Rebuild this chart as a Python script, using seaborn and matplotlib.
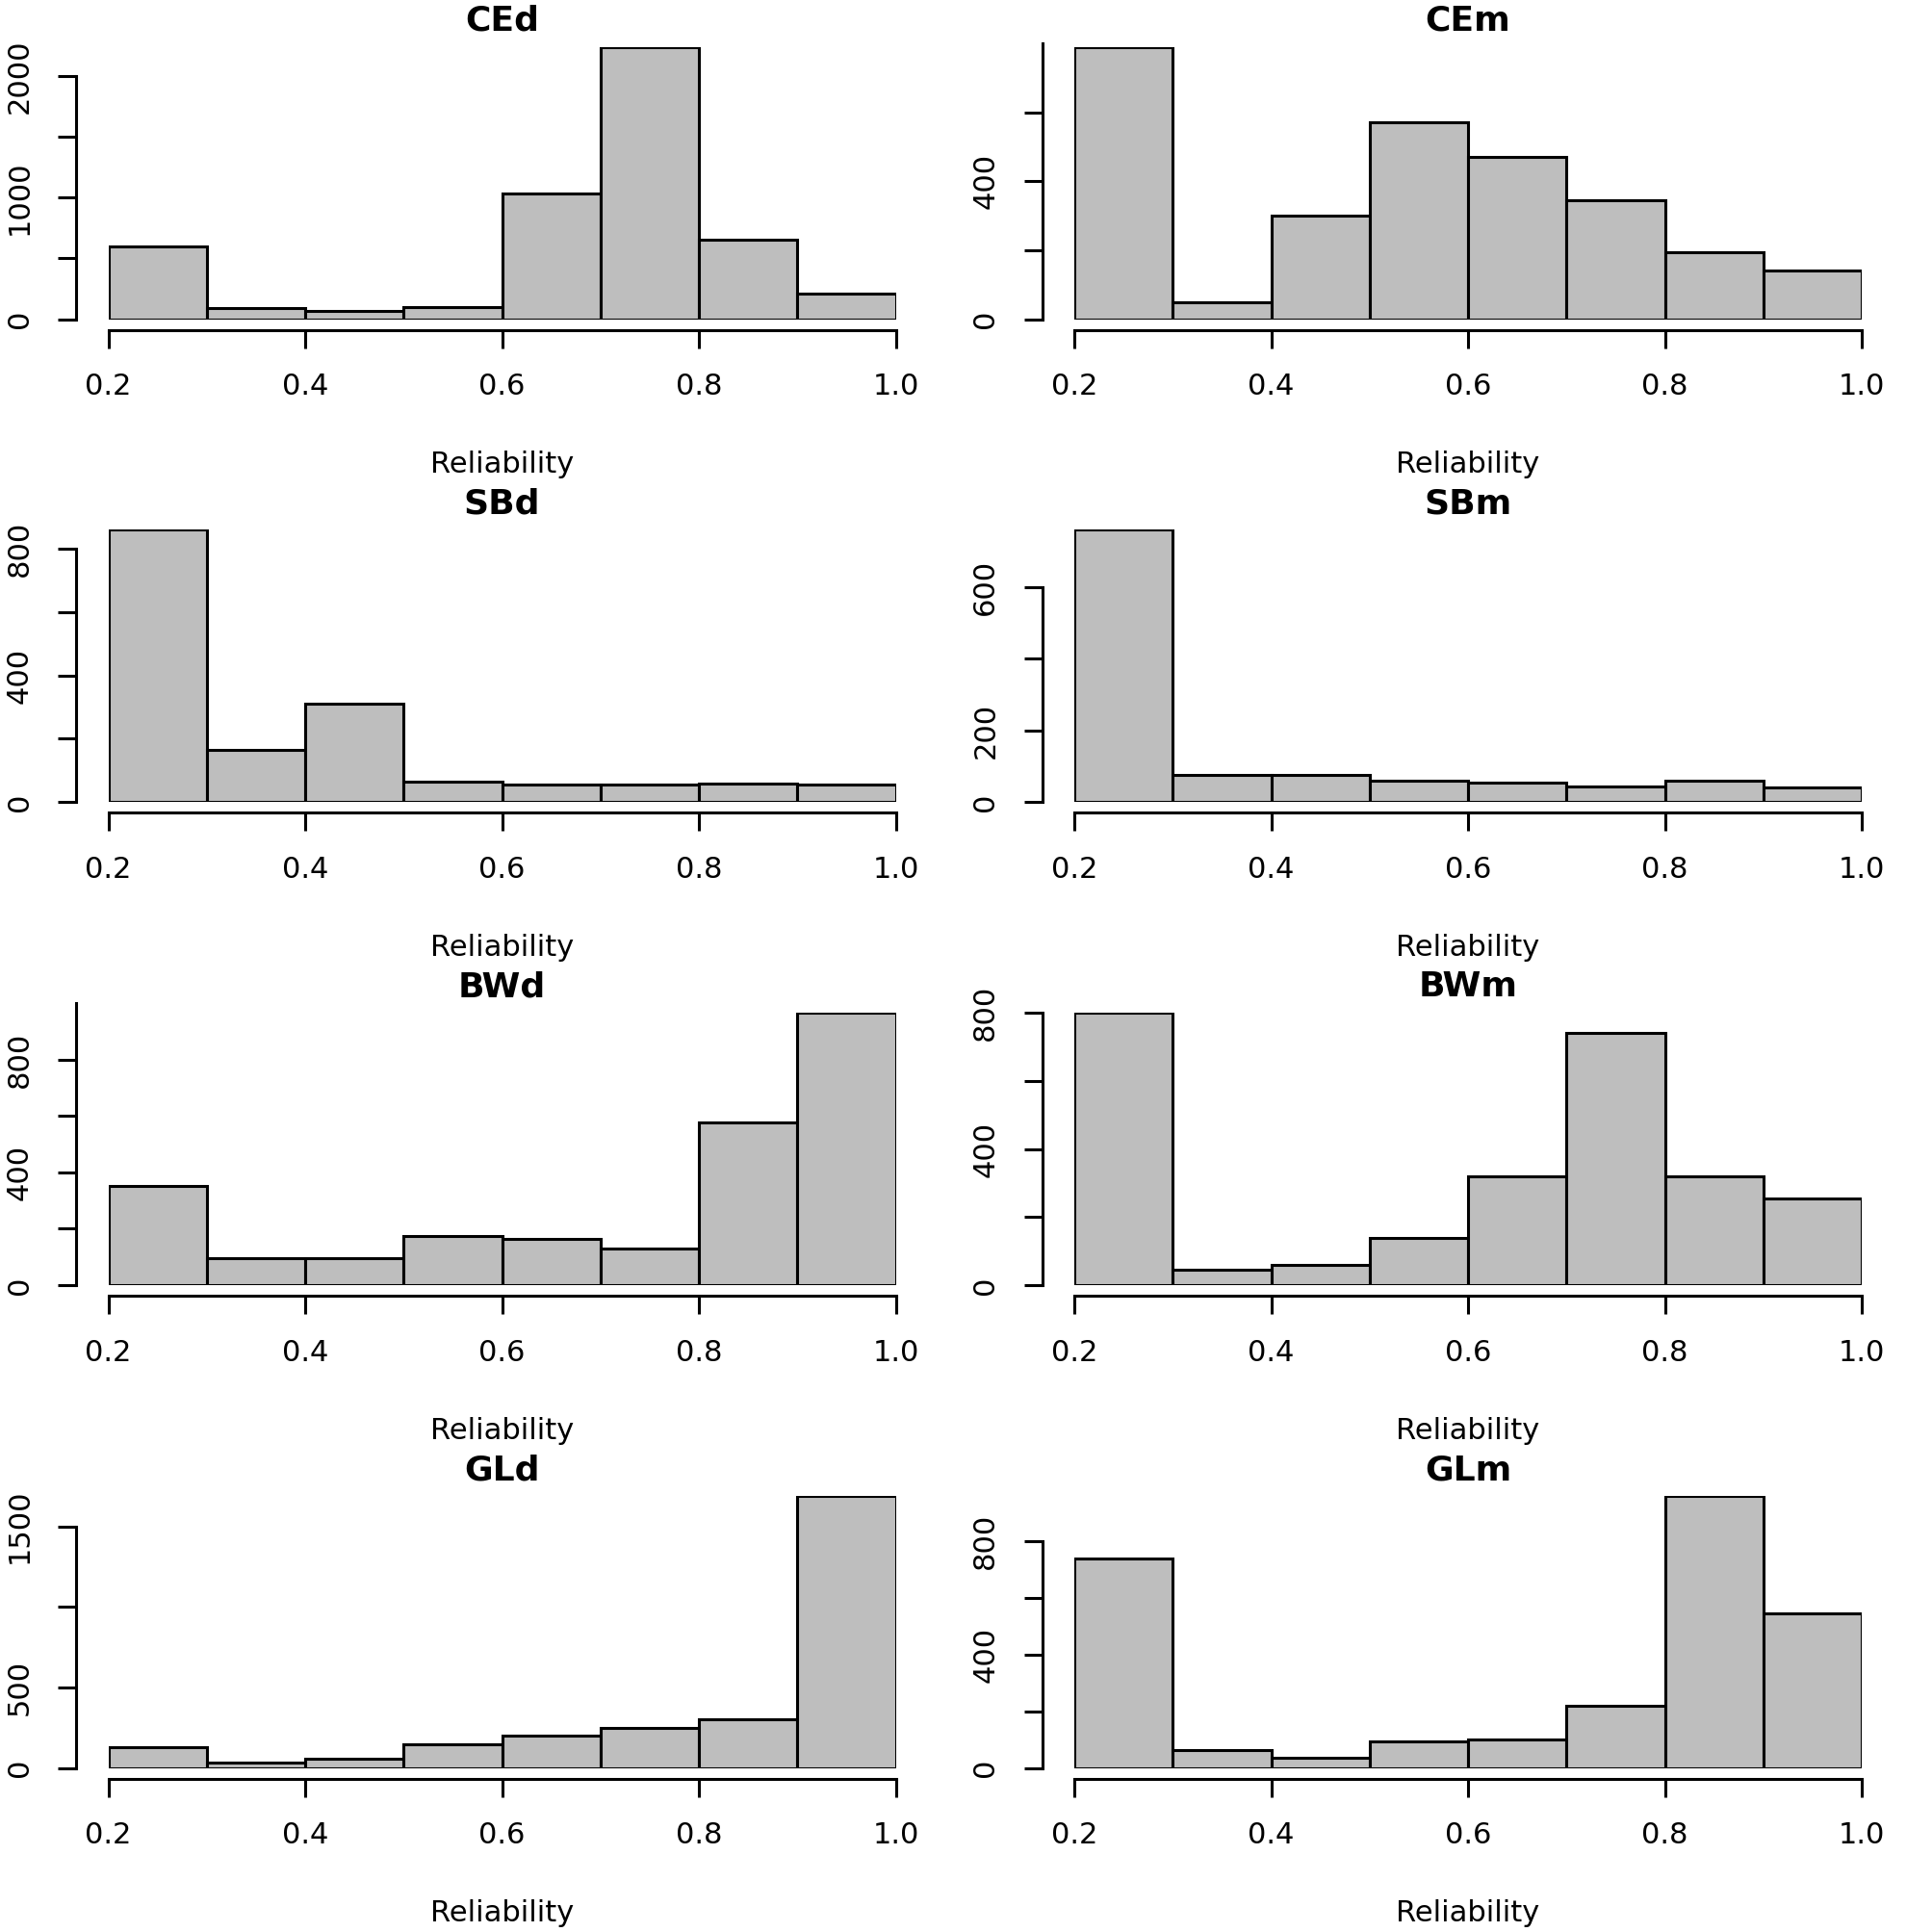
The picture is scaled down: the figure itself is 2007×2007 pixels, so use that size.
import numpy as np
import pandas as pd
import seaborn as sns
import matplotlib.pyplot as plt

edges = [0.2, 0.3, 0.4, 0.5, 0.6, 0.7, 0.8, 0.9, 1.0]
titles = ["CEd", "CEm", "SBd", "SBm", "BWd", "BWm", "GLd", "GLm"]
counts = {
    "CEd": [600, 90, 70, 100, 1030, 2240, 650, 210],
    "CEm": [790, 50, 300, 570, 470, 345, 195, 140],
    "SBd": [860, 165, 310, 65, 55, 55, 60, 55],
    "SBm": [760, 75, 75, 60, 55, 45, 60, 40],
    "BWd": [350, 95, 95, 175, 165, 130, 575, 965],
    "BWm": [800, 45, 60, 140, 320, 740, 320, 255],
    "GLd": [130, 35, 60, 145, 200, 250, 305, 1690],
    "GLm": [740, 65, 35, 95, 100, 220, 960, 545],
}
yticks = {
    "CEd": ([0, 500, 1000, 1500, 2000], ["0", "", "1000", "", "2000"]),
    "CEm": ([0, 200, 400, 600, 800], ["0", "", "400", "", "800"]),
    "SBd": ([0, 200, 400, 600, 800], ["0", "", "400", "", "800"]),
    "SBm": ([0, 200, 400, 600], ["0", "200", "", "600"]),
    "BWd": ([0, 200, 400, 600, 800, 1000], ["0", "", "400", "", "800", ""]),
    "BWm": ([0, 200, 400, 600, 800], ["0", "", "400", "", "800"]),
    "GLd": ([0, 500, 1000, 1500], ["0", "500", "", "1500"]),
    "GLm": ([0, 200, 400, 600, 800], ["0", "", "400", "", "800"]),
}

sns.set_style("ticks")
plt.rcParams["font.family"] = ["DejaVu Sans"]
plt.rcParams["text.color"] = "black"
plt.rcParams["xtick.color"] = "black"
plt.rcParams["ytick.color"] = "black"
plt.rcParams["axes.edgecolor"] = "black"
S = 1568.0
fig = plt.figure(figsize=(10.035, 10.035), dpi=200)
centers = [(a + b) / 2 for a, b in zip(edges[:-1], edges[1:])]

for i, name in enumerate(titles):
    row, col = divmod(i, 2)
    x0 = (88 if col == 0 else 872) / S
    top = 38 + 392 * row
    bottom = 259 + 392 * row
    ax = fig.add_axes([x0, 1 - bottom / S, 639 / S, (bottom - top) / S])
    df = pd.DataFrame({"x": centers, "w": counts[name]})
    sns.histplot(data=df, x="x", weights="w", bins=edges, ax=ax,
                 color="#BEBEBE", edgecolor="black", linewidth=1.1, alpha=1)
    ax.set_xlabel("")
    ax.set_ylabel("")
    for s in ["top", "right"]:
        ax.spines[s].set_visible(False)
    ax.spines["left"].set_position(("outward", 12))
    ax.spines["bottom"].set_position(("outward", 4))
    ax.spines["left"].set_linewidth(1.1)
    ax.spines["bottom"].set_linewidth(1.1)
    ax.set_xticks([0.2, 0.4, 0.6, 0.8, 1.0])
    ax.set_xticklabels(["0.2", "0.4", "0.6", "0.8", "1.0"], fontsize=11)
    t, l = yticks[name]
    ax.set_yticks(t)
    ax.set_yticklabels(l, fontsize=11, rotation=90, va="center")
    ax.set_xlim(0.2, 1.0)
    ax.set_ylim(0, max(counts[name]))
    ax.spines["left"].set_bounds(0, t[-1])
    ax.spines["bottom"].set_bounds(0.2, 1.0)
    ax.tick_params(axis="both", length=7, width=1.1, direction="out", pad=9)
    cx = x0 + 319.5 / S
    fig.text(cx, 1 - (17 + 392 * row) / S, name, ha="center", va="center",
             fontsize=13, fontweight="bold")
    fig.text(cx, 1 - (377 + 392 * row) / S, "Reliability", ha="center",
             va="center", fontsize=11)

fig.savefig("out.png", dpi=200)
